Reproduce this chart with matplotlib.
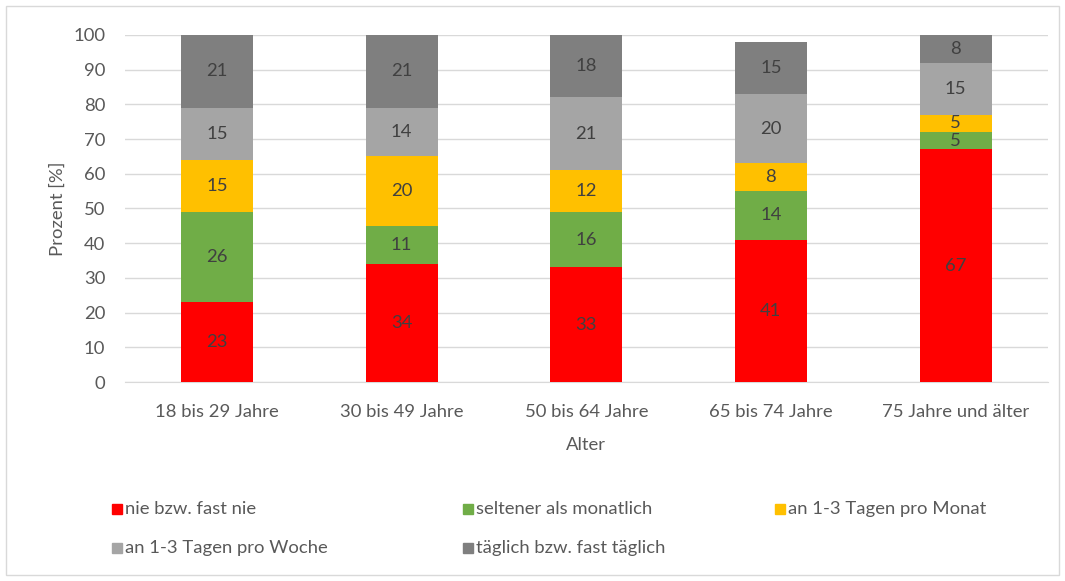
import numpy as np
import matplotlib.pyplot as plt
from matplotlib.patches import Rectangle

plt.rcParams['font.family'] = ['Lato', 'DejaVu Sans']

# data
categories = ['18 bis 29 Jahre', '30 bis 49 Jahre', '50 bis 64 Jahre',
              '65 bis 74 Jahre', '75 Jahre und älter']
series_names = ['nie bzw. fast nie', 'seltener als monatlich', 'an 1-3 Tagen pro Monat',
                'an 1-3 Tagen pro Woche', 'täglich bzw. fast täglich']
nie = [23, 34, 33, 41, 67]
seltener = [26, 11, 16, 14, 5]
monat = [15, 20, 12, 8, 5]
woche = [15, 14, 21, 20, 15]
taeglich = [21, 21, 18, 15, 8]
colors = ['#FF0000', '#70AD47', '#FFC000', '#A5A5A5', '#7F7F7F']

text_col = '#595959'
fs = 13.3
fig = plt.figure(figsize=(10.65, 5.81), dpi=100)
ax = fig.add_axes([0.117, 0.3425, 0.867, 0.5973])

x = np.arange(len(categories))
bottom = np.zeros(len(categories))
for name, vals, c in zip(series_names, [nie, seltener, monat, woche, taeglich], colors):
    vals = np.array(vals, dtype=float)
    ax.bar(x, vals, width=0.39, bottom=bottom, color=c, label=name, zorder=3)
    for xi, b, v in zip(x, bottom, vals):
        ax.text(xi, b + v / 2, f'{v:.0f}', ha='center', va='center',
                fontsize=fs, color='#404040', zorder=4)
    bottom += vals

ax.set_xlim(-0.5, len(categories) - 0.5)
ax.set_ylim(0, 100)
ax.set_yticks(range(0, 101, 10))
ax.set_xticks(x)
ax.set_xticklabels(categories)
ax.tick_params(axis='both', length=0, labelsize=fs, labelcolor=text_col)
ax.tick_params(axis='y', pad=14)
ax.tick_params(axis='x', pad=16)
ax.grid(axis='y', color='#D9D9D9', linewidth=1, zorder=0)
for s in ['left', 'right', 'top']:
    ax.spines[s].set_visible(False)
ax.spines['bottom'].set_color('#D9D9D9')
ax.set_ylabel('Prozent [%]', fontsize=fs, color=text_col, labelpad=5)
ax.set_xlabel('Alter', fontsize=fs, color=text_col, labelpad=12)

# legend laid out like the Excel one (row-major)
leg_pos = [(0.105, 0.124), (0.435, 0.124), (0.728, 0.124),
           (0.105, 0.057), (0.435, 0.057)]
for (lx, ly), name, c in zip(leg_pos, series_names, colors):
    fig.patches.append(Rectangle((lx, ly - 0.0085), 0.0095, 0.017, color=c,
                                 transform=fig.transFigure, figure=fig))
    fig.text(lx + 0.012, ly, name, fontsize=fs, color=text_col, va='center')

# chart border
fig.patches.append(Rectangle((0.006, 0.01), 0.988, 0.98, fill=False,
                             edgecolor='#D9D9D9', linewidth=1,
                             transform=fig.transFigure, figure=fig))

fig.savefig('out.png', dpi=100)
